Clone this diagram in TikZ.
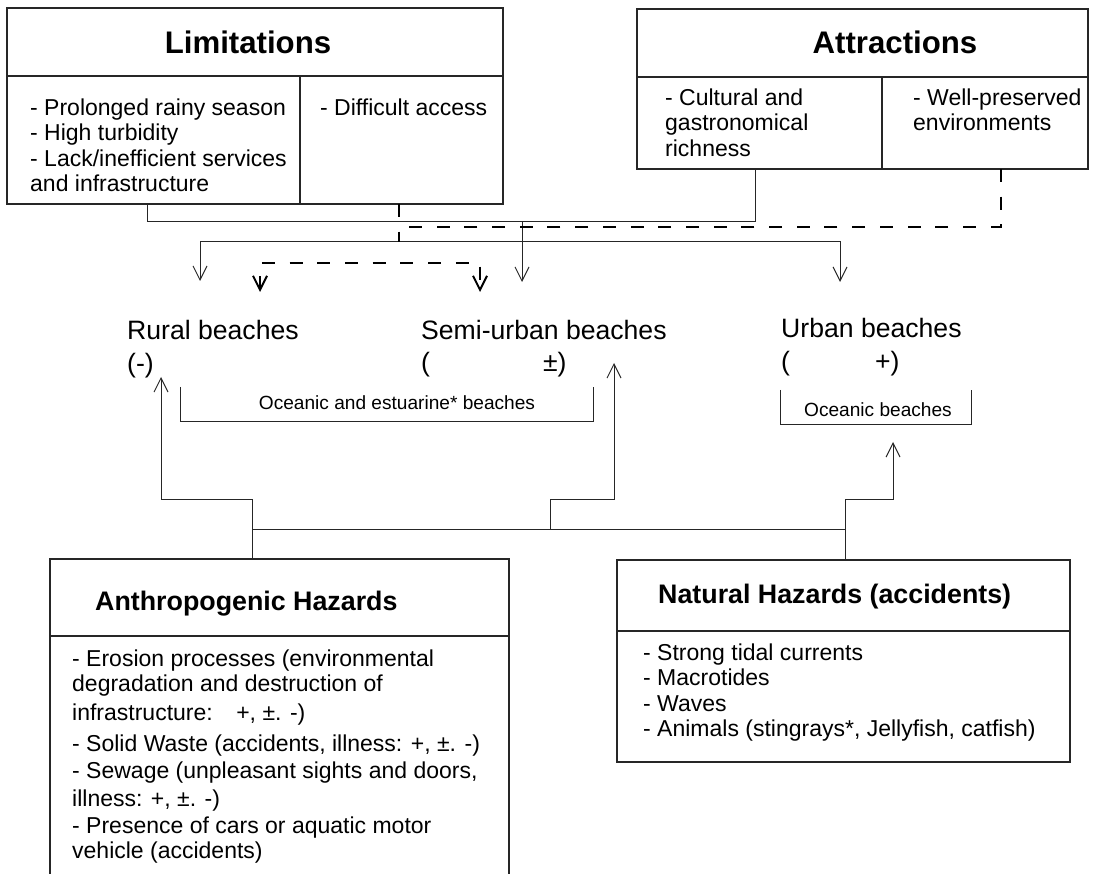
\documentclass[tikz,border=0pt]{standalone}
\usepackage{fontspec}
\setmainfont{Liberation Sans}
\usetikzlibrary{arrows.meta}
\begin{document}
\begin{tikzpicture}[x=1pt,y=-1pt,
  >={Straight Barb[length=14pt,width=14pt]},
  cell/.style={draw=black!85,line width=1.1pt,inner sep=0pt,outer sep=0pt},
  txt/.style={inner sep=0pt,align=left,anchor=north west,font=\fontsize{23}{25.5}\selectfont},
  head/.style={inner sep=0pt,anchor=base,font=\bfseries\fontsize{31.2}{37}\selectfont},
  subhead/.style={inner sep=0pt,anchor=base west,font=\bfseries\fontsize{26.8}{32}\selectfont},
  beach/.style={inner sep=0pt,align=left,anchor=north west,font=\fontsize{26.6}{32.5}\selectfont},
  small/.style={inner sep=0pt,anchor=base,font=\fontsize{19.1}{22}\selectfont},
  conn/.style={draw=black!85,line width=1pt},
  dconn/.style={draw=black,line width=2pt,dash pattern=on 13pt off 14.7pt}]
\useasboundingbox (0,0) rectangle (1098,874);
\clip (0,0) rectangle (1098,874);

\node[cell,minimum width=496pt,minimum height=68pt] (limhead) at (255,42) {};
\node[cell,minimum width=293pt,minimum height=128pt] (limA) at (153.5,140) {};
\node[cell,minimum width=203pt,minimum height=128pt] (limB) at (401.5,140) {};
\node[head] (limtitle) at (248,54) {Limitations};
\node[txt] (limAtxt) at (30,97.15) {\strut- Prolonged rainy season\\- High turbidity\\- Lack/inefficient services\\and infrastructure};
\node[txt] (limBtxt) at (320,97.15) {\strut- Difficult access};

\node[cell,minimum width=451pt,minimum height=68pt] (attrhead) at (862.5,43) {};
\node[cell,minimum width=245pt,minimum height=92pt] (attrL) at (759.5,123) {};
\node[cell,minimum width=206pt,minimum height=92pt] (attrR) at (985,123) {};
\node[head] (attrtitle) at (895,54) {Attractions};
\node[txt] (attrLtxt) at (665,87.15) {\strut- Cultural and\\gastronomical\\richness};
\node[txt] (attrRtxt) at (913,87.15) {\strut- Well-preserved\\environments};

\node[beach] (rural) at (127,316.75) {\strut Rural beaches\\(-)};
\node[beach] (semi) at (421,316.25) {\strut Semi-urban beaches\\(\hspace{113pt}±)};
\node[beach] (urban) at (781,314.75) {\strut Urban beaches\\(\hspace{85pt}+)};
\draw[conn] (180,387) |- (593,422) -- (593,387);
\node[small] (estuar) at (397,410) {Oceanic and estuarine* beaches};
\draw[conn] (780,390) |- (971,425) -- (971,390);
\node[small] (oceanic) at (878,417) {Oceanic beaches};

\node[cell,minimum width=459pt,minimum height=77pt] (anthrohead) at (279.5,597.5) {};
\node[cell,minimum width=459pt,minimum height=268pt] (anthrobody) at (279.5,770) {};
\node[subhead] (anthrotitle) at (95,610) {Anthropogenic Hazards};
\node[txt] (anthrotxt) at (72,648.15) {\strut- Erosion processes (environmental\\[-0.5pt]
degradation and destruction of\\[3.5pt]
infrastructure:\hspace{15pt} +, ±. -)\\[5.5pt]
- Solid Waste (accidents, illness: +, ±. -)\\[1.5pt]
- Sewage (unpleasant sights and doors,\\[2.5pt]
illness: +, ±. -)\\[1.5pt]
- Presence of cars or aquatic motor\\[-0.5pt]
vehicle (accidents)};

\node[cell,minimum width=453pt,minimum height=71pt] (naturalhead) at (843.5,595.5) {};
\node[cell,minimum width=453pt,minimum height=131pt] (naturalbody) at (843.5,696.5) {};
\node[subhead] (naturaltitle) at (658,603) {Natural Hazards (accidents)};
\node[txt] (naturaltxt) at (643,642.15) {\strut- Strong tidal currents\\- Macrotides\\- Waves\\- Animals (stingrays*, Jellyfish, catfish)};

\coordinate (limA-out) at (147,204);
\coordinate (limB-out) at (399,204);
\coordinate (attrL-out) at (755,169);
\coordinate (attrR-out) at (1001,169);
\coordinate (jtop) at (522,222);
\coordinate (semi-in) at (522,282);
\coordinate (rural-in) at (200,281);
\coordinate (urban-in) at (840,282);
\coordinate (rural-dash) at (260,292);
\coordinate (semi-dash) at (480,292);
\coordinate (anthro-out) at (252,559);
\coordinate (natural-out) at (845,560);
\coordinate (jleft) at (252,529);
\coordinate (jmid) at (550,529);
\coordinate (jright) at (845,529);
\coordinate (rural-up) at (161,377);
\coordinate (semi-up) at (614,363);
\coordinate (urban-up) at (893,442);

\draw[conn] (limA-out) -- ++(0,18) -| (attrL-out);
\draw[conn,->] (jtop) -- (semi-in);
\draw[conn,<->] (rural-in) -- ++(0,-39) -| (urban-in);
\draw[dconn] (limB-out) -- ++(0,38);
\draw[dconn] (attrR-out) -- ++(0,58) -- ++(-602,0);
\draw[dconn,<->] (rural-dash) -- ++(0,-29) -| (semi-dash);

\draw[conn,->] (anthro-out) -- ++(0,-60) -| (rural-up);
\draw[conn] (jleft) -- (jright);
\draw[conn,->] (jmid) -- ++(0,-30) -| (semi-up);
\draw[conn,->] (natural-out) -- ++(0,-61) -| (urban-up);
\end{tikzpicture}
\end{document}
